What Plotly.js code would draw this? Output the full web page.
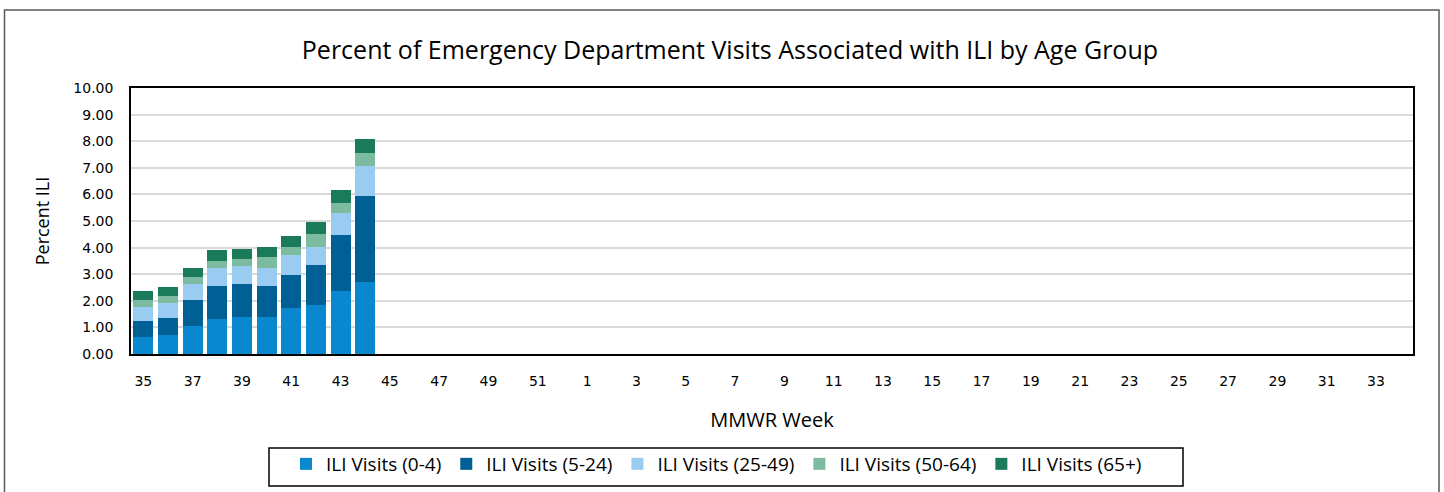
<!DOCTYPE html>
<html>
<head>
<meta charset="utf-8">
<script src="https://cdn.plot.ly/plotly-3.0.1.min.js"></script>
<style>html,body{margin:0;padding:0;background:#fff;}#chart{width:1444px;height:492px;}</style>
</head>
<body>
<div id="chart"></div>
<script>
const weeks = ["35","36","37","38","39","40","41","42","43","44","45","46","47","48","49","50","51","52",
  "1","2","3","4","5","6","7","8","9","10","11","12","13","14","15","16","17","18","19","20","21","22","23","24","25","26","27","28","29","30","31","32","33","34"];
const tickLabels = ["35","37","39","41","43","45","47","49","51","1","3","5","7","9","11","13","15","17","19","21","23","25","27","29","31","33"];
const ages0to4   = [0.65, 0.71, 1.05, 1.32, 1.39, 1.39, 1.72, 1.84, 2.37, 2.69];
const ages5to24  = [0.59, 0.66, 0.99, 1.25, 1.25, 1.18, 1.24, 1.52, 2.12, 3.26];
const ages25to49 = [0.54, 0.55, 0.60, 0.68, 0.67, 0.68, 0.75, 0.68, 0.81, 1.13];
const ages50to64 = [0.26, 0.27, 0.27, 0.26, 0.27, 0.38, 0.33, 0.46, 0.39, 0.46];
const ages65plus = [0.33, 0.32, 0.34, 0.39, 0.38, 0.39, 0.38, 0.46, 0.46, 0.53];
const seriesNames = ["ILI Visits (0-4)","ILI Visits (5-24)","ILI Visits (25-49)","ILI Visits (50-64)","ILI Visits (65+)"];
const colors = ["#0A88CF","#005F94","#99CCF0","#7DBBA0","#1B7A5A"];
const series = [ages0to4, ages5to24, ages25to49, ages50to64, ages65plus];

const traces = series.map((vals, i) => ({
  type: "bar",
  name: seriesNames[i],
  x: weeks.slice(0, vals.length),
  y: vals,
  marker: {color: colors[i], line: {width: 0}},
  hoverinfo: "x+y+name"
}));

// plot area in pixels: left 131, right 1413, top 88, bottom 354
const px = x => (x - 131) / 1282;
const py = y => (354 - y) / 266;

const layout = {
  width: 1444, height: 492,
  margin: {l: 131, r: 31, t: 88, b: 138, autoexpand: false},
  paper_bgcolor: "#fff", plot_bgcolor: "#fff",
  barmode: "stack", bargap: 0.19,
  font: {family: "DejaVu Sans, sans-serif", color: "#000"},
  title: {text: "Percent of Emergency Department Visits Associated with ILI by Age Group",
    font: {family: "Open Sans, sans-serif", size: 25, color: "#000"},
    xref: "container", x: 0.5055, xanchor: "center", yref: "container", y: 0.898, yanchor: "middle"},
  xaxis: {type: "category", categoryorder: "array", categoryarray: weeks,
    range: [-0.5, weeks.length - 0.5], automargin: false,
    tickmode: "array", tickvals: tickLabels, ticktext: tickLabels,
    ticks: "", ticklabelstandoff: 13,
    tickfont: {family: "DejaVu Sans, sans-serif", size: 14, color: "#000"},
    showgrid: false, showline: true, linecolor: "#000", linewidth: 1.5, mirror: true,
    zeroline: false, fixedrange: true,
    title: {text: "MMWR Week", font: {family: "Open Sans, sans-serif", size: 20, color: "#000"}, standoff: 25}},
  yaxis: {range: [0, 10], dtick: 1, tickformat: ".2f", automargin: false,
    ticks: "", ticklabelstandoff: 13,
    tickfont: {family: "DejaVu Sans, sans-serif", size: 14, color: "#000"},
    showgrid: true, gridcolor: "#d9d9d9", gridwidth: 1.5,
    showline: true, linecolor: "#000", linewidth: 1.5, mirror: true, zeroline: false, fixedrange: true,
    title: {text: "Percent ILI", font: {family: "Open Sans, sans-serif", size: 18, color: "#000"}, standoff: 19}},
  legend: {orientation: "h", x: px(286), xanchor: "left", y: py(445), yanchor: "top",
    borderwidth: 0, bgcolor: "rgba(0,0,0,0)",
    font: {family: "Open Sans, sans-serif", size: 19, color: "#000"},
    traceorder: "normal", itemwidth: 20},
  shapes: [
    {type: "rect", xref: "paper", yref: "paper",
      x0: px(4.5), x1: px(1439), y0: py(500), y1: py(10),
      line: {color: "#595959", width: 1.5}, fillcolor: "rgba(0,0,0,0)", layer: "below"},
    {type: "rect", xref: "paper", yref: "paper",
      x0: px(269), x1: px(1183), y0: py(486), y1: py(448),
      line: {color: "#000", width: 1.5}, fillcolor: "rgba(0,0,0,0)", layer: "below"}
  ],
  showlegend: true
};

Plotly.newPlot("chart", traces, layout, {displayModeBar: false, staticPlot: false});
</script>
</body>
</html>
